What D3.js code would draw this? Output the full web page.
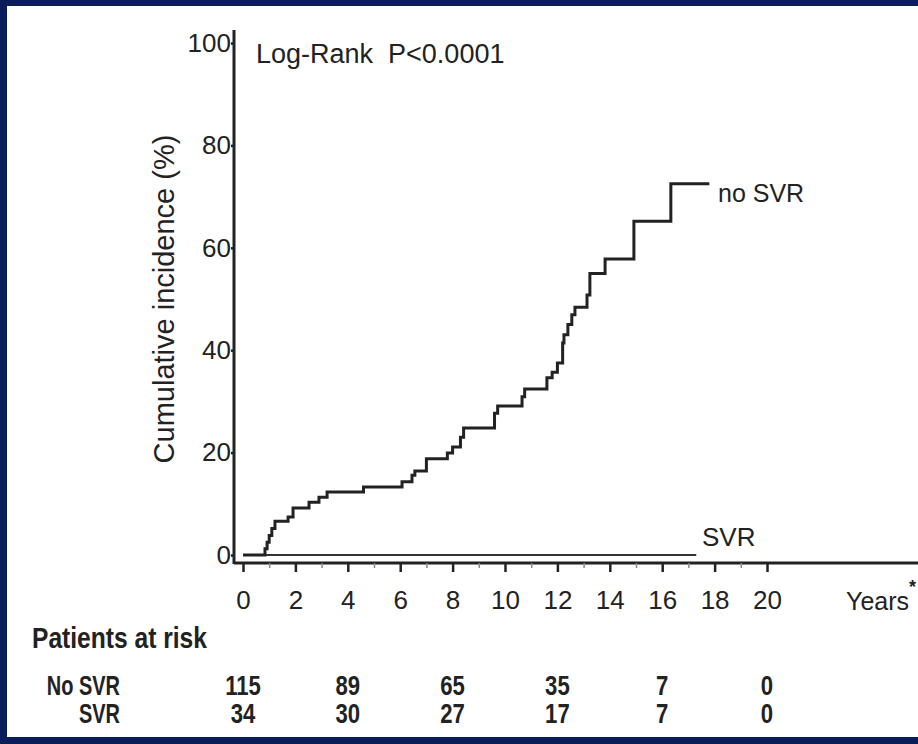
<!DOCTYPE html>
<html>
<head>
  <meta charset="utf-8">
  <title>Cumulative incidence</title>
  <script src="https://d3js.org/d3.v7.min.js"></script>
  <style>
    body {
      margin: 0;
      padding: 0;
      background-color: #0a1c5a;
    }
    text {
      font-family: "Liberation Sans", Arial, sans-serif;
      fill: #222;
    }
    .axis path { display: none; }
    .axis line { stroke: #222; stroke-width: 2.5; }
    .minor line { stroke: #888; stroke-width: 1.5; }
    .risk { font-weight: bold; }
  </style>
</head>
<body>
  <div id="chart"></div>
  <script>
    // data
    var xTicks = [0, 2, 4, 6, 8, 10, 12, 14, 16, 18, 20];
    var xMinor = [1, 3, 5, 7, 9, 11, 13, 15, 17, 19];
    var yTicks = [0, 20, 40, 60, 80, 100];

    // no SVR step curve: time of each jump (years) and new level (%)
    var noSvrTime = [0, 0.84, 0.92, 1.0, 1.1, 1.22, 1.72, 1.91, 2.52, 2.9, 3.21, 4.6, 6.07, 6.45, 6.56,
                     7.0, 7.8, 8.0, 8.3, 8.42, 9.6, 9.72, 10.65, 10.75, 11.6, 11.8, 12.0, 12.2, 12.25,
                     12.4, 12.55, 12.67, 13.13, 13.24, 13.82, 14.92, 16.33, 17.8];
    var noSvrPct  = [0, 1.2, 2.5, 3.8, 5.2, 6.6, 7.4, 9.2, 10.3, 11.3, 12.3, 13.3, 14.3, 15.6, 16.4,
                     18.8, 19.9, 21.1, 23.0, 24.8, 27.7, 29.1, 30.9, 32.4, 34.6, 35.7, 37.5, 41.4, 43.0,
                     45.0, 46.9, 48.4, 50.8, 55.0, 57.8, 65.2, 72.5, 72.5];
    var svrTime = [0, 17.3];
    var svrPct  = [0, 0];

    // patients at risk
    var riskTimes = [0, 4, 8, 12, 16, 20];
    var riskGroups = ["No SVR", "SVR"];
    var riskNoSvr = [115, 89, 65, 35, 7, 0];
    var riskSvr = [34, 30, 27, 17, 7, 0];

    var W = 918, H = 744;
    var squeeze = 0.82;   // no narrow font installed, so condense by hand

    var svg = d3.select("#chart")
      .append("svg")
        .attr("width", W)
        .attr("height", H);

    // white panel inside the navy frame
    svg.append("rect")
        .attr("x", 7).attr("y", 6)
        .attr("width", W - 7).attr("height", 731)
        .attr("fill", "white");

    var x = d3.scaleLinear().domain([0, 20]).range([243, 767]);
    var y = d3.scaleLinear().domain([0, 100]).range([555, 43]);

    var axisX = 234, axisY = 563;

    // axis lines (offset from the data origin, like the original)
    svg.append("line")
        .attr("x1", axisX).attr("x2", axisX)
        .attr("y1", 30).attr("y2", axisY + 1)
        .attr("stroke", "#222").attr("stroke-width", 3);
    svg.append("line")
        .attr("x1", axisX).attr("x2", W)
        .attr("y1", axisY).attr("y2", axisY)
        .attr("stroke", "#222").attr("stroke-width", 3);

    // x axis
    svg.append("g")
        .attr("class", "axis minor")
        .attr("transform", "translate(0," + axisY + ")")
        .call(d3.axisBottom(x).tickValues(xMinor).tickSize(5).tickFormat(""));

    var gx = svg.append("g")
        .attr("class", "axis")
        .attr("transform", "translate(0," + axisY + ")")
        .call(d3.axisBottom(x).tickValues(xTicks).tickSize(9).tickPadding(19));
    gx.selectAll("text").style("font-size", "26px").attr("fill", "#222");

    // y axis
    var gy = svg.append("g")
        .attr("class", "axis")
        .attr("transform", "translate(" + axisX + ",0)")
        .call(d3.axisLeft(y).tickValues(yTicks).tickSize(3).tickPadding(0));
    gy.selectAll("line").attr("stroke-width", 1.5);
    gy.selectAll("text").style("font-size", "26px").attr("fill", "#222");

    // curves
    var line = d3.line()
        .x(function(d) { return x(d[0]); })
        .y(function(d) { return y(d[1]); })
        .curve(d3.curveStepAfter);

    svg.append("path")
        .datum(svrTime.map(function(t, i) { return [t, svrPct[i]]; }))
        .attr("d", line)
        .attr("fill", "none")
        .attr("stroke", "#333")
        .attr("stroke-width", 2);

    svg.append("path")
        .datum(noSvrTime.map(function(t, i) { return [t, noSvrPct[i]]; }))
        .attr("d", line)
        .attr("fill", "none")
        .attr("stroke", "#222")
        .attr("stroke-width", 3);

    // labels
    svg.append("text")
        .attr("x", 718).attr("y", 202)
        .style("font-size", "25px")
        .text("no SVR");
    svg.append("text")
        .attr("x", 702).attr("y", 546)
        .style("font-size", "26px")
        .text("SVR");
    svg.append("text")
        .attr("x", 256).attr("y", 63)
        .style("font-size", "27px")
        .attr("xml:space", "preserve")
        .text("Log-Rank  P<0.0001");

    svg.append("text")
        .attr("transform", "translate(174," + y(50) + ") rotate(-90)")
        .style("text-anchor", "middle")
        .style("font-size", "29px")
        .text("Cumulative incidence (%)");

    var yl = svg.append("text")
        .attr("x", 846).attr("y", 610)
        .style("font-size", "25px")
        .text("Years");
    yl.append("tspan")
        .attr("dy", -17)
        .style("font-size", "18px")
        .style("font-weight", "bold")
        .text("*");

    // patients at risk table
    svg.append("text")
        .attr("class", "risk")
        .attr("transform", "translate(32,648) scale(" + squeeze + ",1)")
        .style("font-size", "30px")
        .text("Patients at risk");

    var rowY = [695, 723];
    var rows = [riskNoSvr, riskSvr];

    riskGroups.forEach(function(g, r) {
      svg.append("text")
          .attr("class", "risk")
          .attr("transform", "translate(120," + rowY[r] + ") scale(0.74,1)")
          .style("text-anchor", "end")
          .style("font-size", "27px")
          .text(g);

      svg.selectAll(".risk" + r)
          .data(rows[r])
        .enter().append("text")
          .attr("class", "risk risk" + r)
          .attr("transform", function(d, i) {
            return "translate(" + x(riskTimes[i]) + "," + rowY[r] + ") scale(" + squeeze + ",1)";
          })
          .style("text-anchor", "middle")
          .style("font-size", "27px")
          .text(function(d) { return d; });
    });
  </script>
</body>
</html>
